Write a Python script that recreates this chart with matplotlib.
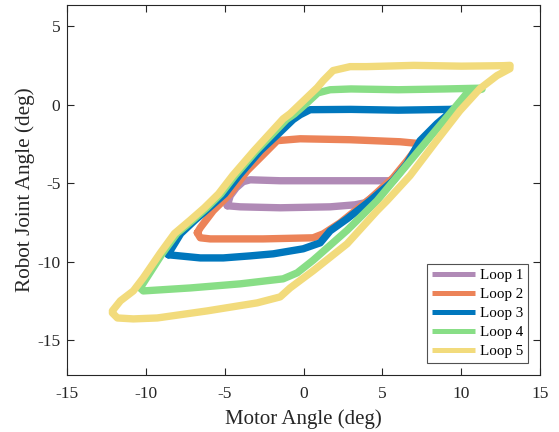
import matplotlib
matplotlib.use("Agg")
import matplotlib.pyplot as plt

plt.rcParams['font.family'] = ['Liberation Serif', 'DejaVu Serif']
plt.rcParams['axes.unicode_minus'] = False

labels = ['Loop 1', 'Loop 2', 'Loop 3', 'Loop 4', 'Loop 5']
colors = ['#B08AB6', '#EC8358', '#0077BD', '#88DE86', '#F2DB7C']

# loop outlines (motor angle, robot joint angle)
loop1_x = [-4.85, -4.03, -1.49, 1.68, 3.27, 3.90, 4.72, 5.48, 5.17, 1.68, -1.49, -3.39, -3.84, -4.28, -4.66, -4.85]
loop1_y = [-6.43, -6.50, -6.56, -6.50, -6.37, -6.24, -5.60, -4.84, -4.84, -4.84, -4.84, -4.78, -4.90, -5.29, -5.80, -6.43]

loop2_x = [-6.75, -6.56, -5.93, -2.57, 0.60, 1.24, 2.31, 4.22, 5.68, 6.56, 7.39, 6.12, 2.95, -0.22, -1.68, -2.63, -3.58, -4.66, -5.74, -6.56, -6.75]
loop2_y = [-8.15, -8.47, -8.54, -8.54, -8.47, -8.22, -7.52, -5.99, -4.65, -3.57, -2.48, -2.36, -2.23, -2.17, -2.29, -3.25, -4.20, -5.67, -6.75, -7.83, -8.15]

loop3_x = [-8.59, -6.56, -5.10, -3.39, -1.93, -0.03, 1.05, 1.68, 2.76, 4.22, 5.68, 6.56, 7.39, 8.46, 9.29, 9.60, 9.30, 6.00, 3.00, 0.41, -0.22, -0.67, -1.60, -2.75, -4.10, -5.00, -6.00, -6.90, -7.80, -8.47, -8.59]
loop3_y = [-9.55, -9.75, -9.75, -9.62, -9.49, -9.17, -8.79, -8.03, -7.26, -6.11, -4.84, -3.76, -2.29, -1.21, -0.51, -0.25, -0.30, -0.35, -0.30, -0.32, -0.64, -0.95, -1.85, -2.93, -4.50, -5.67, -6.56, -7.35, -8.20, -9.30, -9.55]

loop4_x = [-10.37, -10.18, -7.19, -4.03, -1.30, -0.41, 0.60, 2.76, 4.66, 7.83, 9.50, 10.37, 11.32, 11.30, 9.00, 6.00, 3.00, 1.68, 0.90, 0.20, -0.60, -1.10, -3.00, -4.35, -5.25, -6.15, -7.05, -8.05, -8.95, -9.95, -10.37]
loop4_y = [-11.66, -11.85, -11.66, -11.40, -11.08, -10.70, -9.90, -7.99, -6.11, -2.29, -0.30, 0.74, 0.99, 1.05, 1.00, 0.95, 1.00, 0.95, 0.75, 0.10, -0.60, -0.95, -2.93, -4.50, -5.67, -6.56, -7.35, -8.20, -9.44, -11.00, -11.66]

loop5_x = [-12.14, -11.82, -10.81, -9.29, -6.12, -2.95, -1.49, -0.86, 0.60, 2.76, 4.66, 5.29, 6.75, 8.34, 9.92, 11.19, 12.27, 13.09, 13.10, 12.65, 10.00, 7.00, 4.00, 2.95, 1.87, 1.24, 0.86, -0.86, -1.30, -3.15, -4.50, -5.40, -6.30, -7.20, -8.20, -9.10, -10.18, -10.81, -11.63, -12.14]
loop5_y = [-13.25, -13.57, -13.63, -13.57, -13.12, -12.61, -12.23, -11.66, -10.57, -8.85, -6.75, -6.11, -4.52, -2.42, -0.38, 1.02, 1.85, 2.29, 2.50, 2.48, 2.45, 2.50, 2.42, 2.42, 2.17, 1.53, 1.08, -0.57, -0.90, -2.93, -4.50, -5.67, -6.56, -7.35, -8.20, -9.44, -11.02, -11.85, -12.48, -13.12]

loops = [(loop1_x, loop1_y), (loop2_x, loop2_y), (loop3_x, loop3_y),
         (loop4_x, loop4_y), (loop5_x, loop5_y)]

fig = plt.figure(figsize=(5.59, 4.32), dpi=100)
ax = fig.add_axes([0.1204, 0.1319, 0.8456, 0.8565])

for (x, y), c, lab in zip(loops, colors, labels):
    ax.plot(x, y, color=c, lw=5.3, label=lab, solid_joinstyle='round', solid_capstyle='round')

ax.set_xlim(-15, 15)
ax.set_ylim(-17.2, 6.34)
ax.set_xticks([-15, -10, -5, 0, 5, 10, 15])
ax.set_yticks([-15, -10, -5, 0, 5])
ax.tick_params(direction='in', top=True, right=True, length=5, width=0.8,
               labelsize=12.5, colors='#262626')
ax.tick_params(axis='x', pad=8)
ax.tick_params(axis='y', pad=5)
for s in ax.spines.values():
    s.set_color('#262626')
    s.set_linewidth(0.8)

ax.set_xlabel('Motor Angle (deg)', fontsize=15, color='#262626', labelpad=5)
ax.set_ylabel('Robot Joint Angle (deg)', fontsize=15.3, color='#262626', labelpad=1.5)

leg = ax.legend(loc='lower right', fontsize=10.8, frameon=True, fancybox=False,
                handlelength=2.84, handletextpad=0.32, labelspacing=0.36,
                borderaxespad=0.78, borderpad=0.35)
leg.get_frame().set_edgecolor('#262626')
leg.get_frame().set_linewidth(0.8)
for h in leg.legend_handles:
    h.set_linewidth(3.6)
    h.set_solid_capstyle('butt')

fig.savefig('out.png', dpi=100)
